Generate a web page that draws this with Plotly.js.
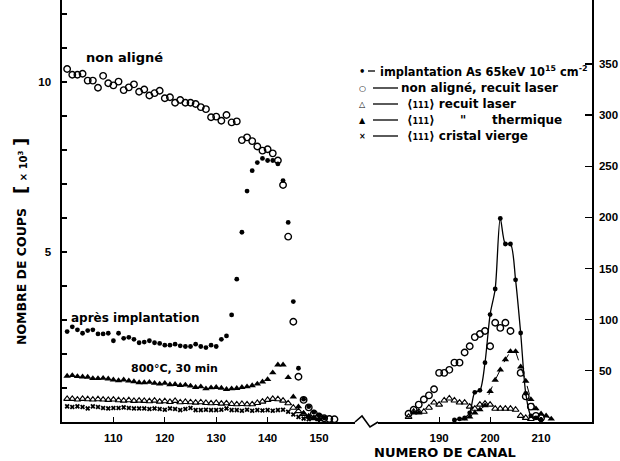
<!DOCTYPE html>
<html><head><meta charset="utf-8">
<script src="https://cdn.plot.ly/plotly-3.0.1.min.js"></script>
<style>html,body{margin:0;padding:0;background:#fff}#chart{width:620px;height:461px}</style>
</head><body><div id="chart"></div>
<script>
// ---- data: left segment (channels, counts x10^3, left axis) ----
const chL = [101,102,103,104,105,106,107,108,109,110,111,112,113,114,115,116,117,118,119,120,
  121,122,123,124,125,126,127,128,129,130,131,132,133,134,135,136,137,138,139,140,
  141,142,143,144,145,146,147,148,149,150,151,152,153];
const implantL = [2.66,2.80,2.71,2.61,2.69,2.71,2.59,2.59,2.61,2.39, 2.61,2.46,2.49,2.43,2.33,2.35,2.39,2.33,2.31,2.26,
  2.26,2.29,2.24,2.22,2.22,2.29,2.22,2.19,2.26,2.22, 2.43,2.53,3.15,4.20,5.58,6.79,7.39,7.63,7.75,7.69,
  7.69,7.59,7.10,5.87,3.54,1.58,0.67,0.45,0.29,0.20, 0.12,null,null];
const nonAlL = [10.38,10.21,10.21,10.24,10.04,10.04,9.83,10.18,9.96,9.90, 10.01,9.76,9.84,9.93,9.71,9.78,9.60,9.67,9.74,9.52,
  9.55,9.39,9.47,9.39,9.39,9.35,9.26,9.20,8.96,8.98, 8.86,9.03,8.81,8.84,8.29,8.37,8.26,8.10,7.98,8.02,
  7.90,7.69,6.97,5.45,2.95,1.33,0.65,0.43,0.25,0.16, 0.11,0.09,0.08];
const thermL = [1.35,1.37,1.34,1.33,1.32,1.28,1.28,1.29,1.27,1.24, 1.22,1.24,1.21,1.19,1.16,1.16,1.17,1.14,1.12,1.14,
  1.10,1.11,1.08,1.09,1.06,1.02,1.04,0.98,1.01,1.02, 1.00,0.96,0.98,0.99,1.02,1.04,1.07,1.12,1.18,1.25,
  1.45,1.68,1.68,1.31,0.74,0.45,0.26,0.16,0.11,0.08, null,null,null];
const laserL = [0.68,0.68,0.66,0.68,0.67,0.66,0.67,0.66,0.65,0.66, 0.64,0.63,0.64,0.62,0.63,0.62,0.61,0.63,0.60,0.61,
  0.59,0.62,0.58,0.59,0.58,0.57,0.58,0.56,0.55,0.56, 0.54,0.55,0.53,0.52,0.53,0.52,0.52,0.56,0.60,0.65,
  0.68,0.67,0.63,0.55,0.42,0.32,0.24,0.16,0.11,0.08, null,null,null];
const viergeL = [0.46,0.44,0.46,0.44,0.40,0.46,0.44,0.41,0.40,0.41, 0.41,0.43,0.41,0.40,0.40,0.40,0.38,0.40,0.38,0.36,
  0.40,0.38,0.35,0.38,0.41,0.35,0.35,0.36,0.35,0.35, 0.36,0.40,0.35,0.35,0.33,0.36,0.33,0.35,0.34,0.35,
  0.33,0.35,0.36,0.30,0.22,0.15,0.10,0.08,null,null, null,null,null];

// ---- data: right segment (channels, counts, right axis) ----
const chR = [184,185,186,187,188,189,190,191,192,193,194,195,196,197,198,199,200,201,202,203,
  204,205,206,207,208,209,210,211,212];
const nonAlR = [8,12,17,22,26,32,48,48,51,58, 58,68,74,83,86,89,74,97,92,97, 89,null,48,25,15,6,4,null,null];
const implantR = [null,null,null,null,null,null,null,null,null,2, 3,4,9,29,31,58,105,130,199,174, 174,139,87,28,6,4,2,null,null];
const thermR = [null,9,9,null,null,null,null,null,null,null, null,3,5,9,12,16,30,41,51,61, 69,69,54,40,22,13,8,6,3];
const laserR = [5,10,10,10,14,19,17,21,23,21, 19,19,15,13,17,18,17,13,13,13, 13,12,6,4,3,null,null,null,null];

// ---- ticks & labels ----
const xTicksL = [110,120,130,140,150];
const xTicksR = [190,200,210];
const yTicksL = [5,10];
const yTicksR = [50,100,150,200,250,300,350];
const legendMarks = ['•','○','△','▲','×'];

const W=620,H=461,ML=62,MR=28,MT=0,MB=39;
const PW=W-ML-MR, PH=H-MT-MB;
const px = x => (x-ML)/PW;
const py = y => (H-MB-y)/PH;
const bold = arr => arr.map(v => '<b>'+v+'</b>');

const K='#000';
const traces = [
  {x:chL,y:nonAlL,xaxis:'x',yaxis:'y',mode:'markers',marker:{symbol:'circle-open',size:6.5,color:K,line:{width:1.4,color:K}}},
  {x:chL,y:laserL,xaxis:'x',yaxis:'y',mode:'markers',marker:{symbol:'triangle-up-open',size:6,color:K,line:{width:1.1,color:K}}},
  {x:chL,y:viergeL,xaxis:'x',yaxis:'y',mode:'markers',marker:{symbol:'x',size:4.5,color:K,line:{width:0}}},
  {x:chL,y:thermL,xaxis:'x',yaxis:'y',mode:'markers',marker:{symbol:'triangle-up',size:6.5,color:K}},
  {x:chL,y:implantL,xaxis:'x',yaxis:'y',mode:'markers',marker:{symbol:'circle',size:4.8,color:K}},
  {x:chR,y:nonAlR,xaxis:'x2',yaxis:'y2',mode:'markers',marker:{symbol:'circle-open',size:6.5,color:K,line:{width:1.4,color:K}}},
  {x:chR,y:laserR,xaxis:'x2',yaxis:'y2',mode:'markers',marker:{symbol:'triangle-up-open',size:6,color:K,line:{width:1.1,color:K}}},
  {x:chR,y:thermR,xaxis:'x2',yaxis:'y2',mode:'lines+markers',line:{color:K,width:1,dash:'dash'},marker:{symbol:'triangle-up',size:6.5,color:K}},
  {x:chR,y:implantR,xaxis:'x2',yaxis:'y2',mode:'lines+markers',line:{color:K,width:1.3,shape:'spline',smoothing:0.8},marker:{symbol:'circle',size:4.8,color:K}}
];

const tickFont = {family:'Liberation Sans, Arial, sans-serif',size:11.5,color:K,weight:'bold'};
const axBase = {showgrid:false,zeroline:false,showline:true,linecolor:K,linewidth:1.6,
  ticks:'inside',tickcolor:K,tickwidth:1.2,tickfont:tickFont,fixedrange:true};

const txtFont = (s)=>({family:'DejaVu Sans, sans-serif',size:s,color:K,weight:'bold'});
const ann = (text,x,y,s,extra)=>Object.assign({text:text,xref:'paper',yref:'paper',x:px(x),y:py(y),
  xanchor:'center',yanchor:'middle',showarrow:false,font:txtFont(s)},extra||{});

const small111 = '⟨<span style="font-size:8px">111</span>⟩';
const rows = [71,88,104,120,136];
const annotations = [
  ann('<b>non aligné</b>',124,58,13),
  ann('<b>après implantation</b>',135,318,12),
  ann('<b>800°C, 30 min</b>',174,368,11),
  ann('<b>NUMERO DE CANAL</b>',445,452,13),
  ann('<b>NOMBRE DE COUPS</b>',21,277,12.5,{textangle:-90}),
  ann('<span style="font-size:18px">[</span> <b><span style="font-size:10px">× 10<sup>3</sup></span></b> <span style="font-size:18px">]</span>',21,166,13,{textangle:-90}),
  ann('<b>implantation As 65keV 10<sup>15</sup> cm<sup>-2</sup></b>',378,rows[0],11.4,{xanchor:'left'}),
  ann('<b>non aligné, recuit laser</b>',399,rows[1],12,{xanchor:'left'}),
  ann('<b>'+small111+' recuit laser</b>',405,rows[2],12,{xanchor:'left'}),
  ann('<b>'+small111+'</b>',405,rows[3],12,{xanchor:'left'}),
  ann('<b>"</b>',458,rows[3],12,{xanchor:'left'}),
  ann('<b>thermique</b>',490,rows[3],12,{xanchor:'left'}),
  ann('<b>'+small111+' cristal vierge</b>',405,rows[4],12,{xanchor:'left'})
];
legendMarks.forEach((m,i)=>annotations.push(ann(m,362,rows[i],i===0?10:8)));

const shapes = [
  {type:'path',xref:'paper',yref:'paper',
   path:`M ${px(355)},${py(422)} L ${px(362)},${py(416)} L ${px(370)},${py(427)} L ${px(378)},${py(422)}`,
   line:{color:K,width:1.6}},
  {type:'line',xref:'paper',yref:'paper',x0:px(368),x1:px(375),y0:py(rows[0]),y1:py(rows[0]),line:{color:K,width:1.3}}
];
[1,2,3,4].forEach(i=>shapes.push({type:'line',xref:'paper',yref:'paper',x0:px(373),x1:px(398),
  y0:py(rows[i]),y1:py(rows[i]),line:{color:K,width:1.3}}));

const layout = {
  width:W,height:H,margin:{l:ML,r:MR,t:MT,b:MB,pad:0},
  paper_bgcolor:'#fff',plot_bgcolor:'#fff',showlegend:false,
  xaxis:Object.assign({},axBase,{domain:[0,px(355)],range:[100,157],tickvals:xTicksL,ticktext:bold(xTicksL),ticklen:5,anchor:'y',ticklabelstandoff:5}),
  xaxis2:Object.assign({},axBase,{domain:[px(378),1],range:[178,220],tickvals:xTicksR,ticktext:bold(xTicksR),ticklen:5,anchor:'y2',ticklabelstandoff:5}),
  yaxis:Object.assign({},axBase,{domain:[0,1],range:[0,12.41],tickvals:yTicksL,ticktext:bold(yTicksL),ticklen:5,anchor:'x',ticklabelstandoff:7,
    minor:{ticks:'inside',dtick:1,ticklen:5,tickcolor:K,tickwidth:1.2,showgrid:false}}),
  yaxis2:Object.assign({},axBase,{domain:[0,1],range:[0,412.5],tickvals:yTicksR,ticktext:bold(yTicksR),ticklen:7,side:'right',anchor:'x2',ticklabelstandoff:3}),
  annotations:annotations,shapes:shapes
};
Plotly.newPlot('chart',traces,layout,{displayModeBar:false,staticPlot:true});
</script></body></html>
